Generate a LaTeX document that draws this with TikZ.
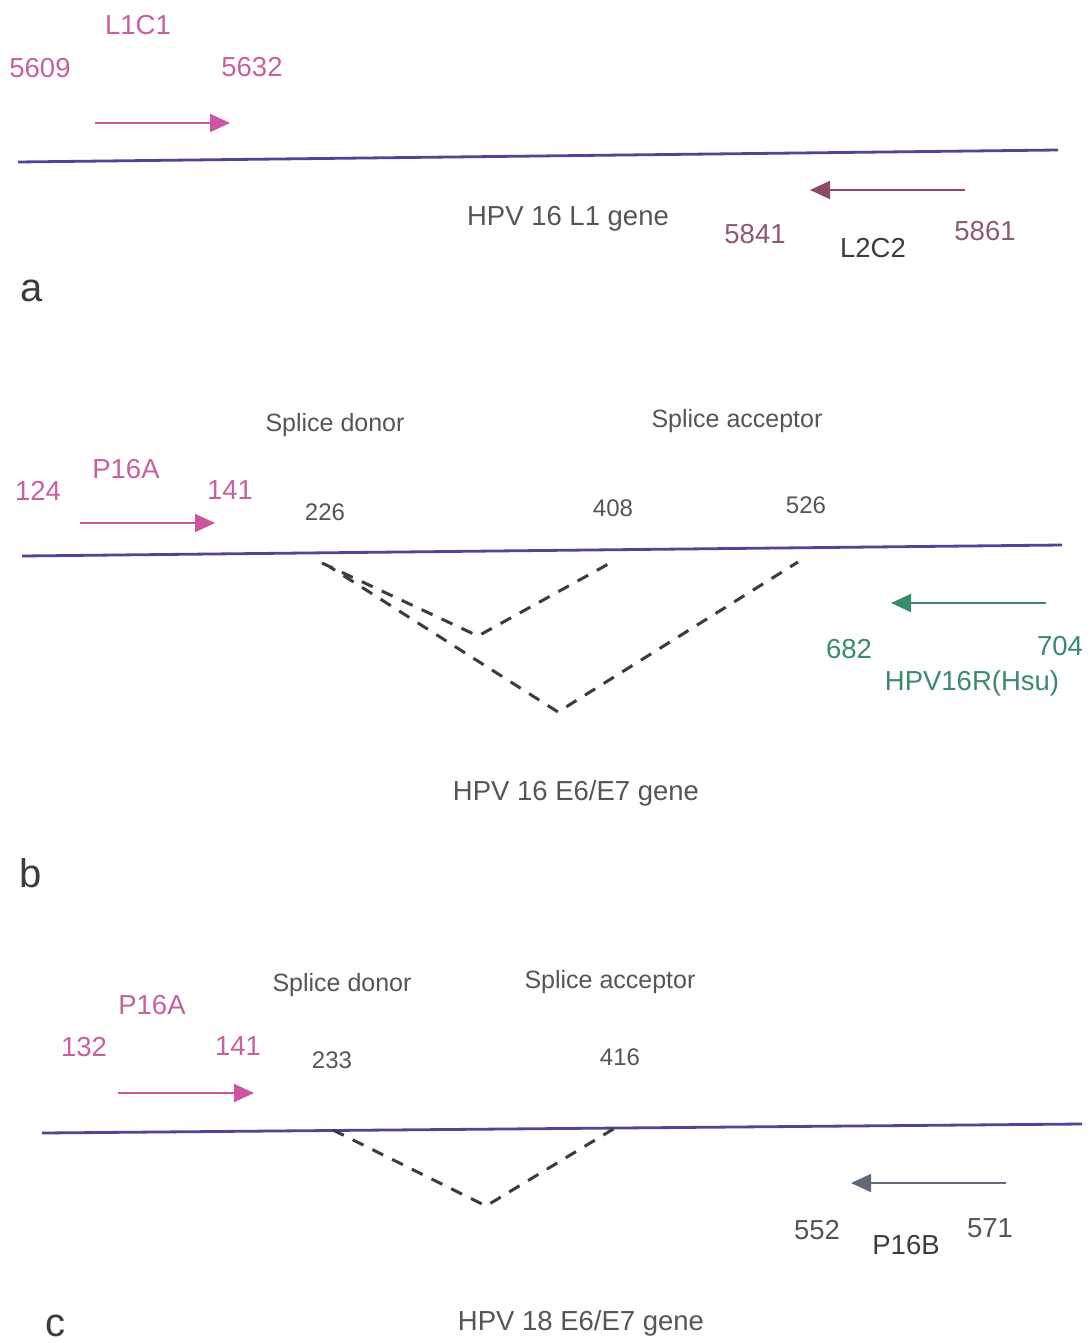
\documentclass[tikz,border=0pt]{standalone}
\usepackage{fontspec}
\setmainfont{Liberation Sans}
\usetikzlibrary{arrows.meta}
\definecolor{pinkc}{RGB}{204,84,160}
\definecolor{pinkt}{RGB}{200,96,160}
\definecolor{mauvet}{RGB}{140,90,120}
\definecolor{brownar}{RGB}{140,74,100}
\definecolor{greenc}{RGB}{58,140,104}
\definecolor{blueline}{RGB}{76,70,150}
\definecolor{grayt}{RGB}{85,85,85}
\definecolor{darkt}{RGB}{60,60,60}
\definecolor{slatear}{RGB}{95,105,120}
\tikzset{
  x=1pt,y=-1pt,
  lbl/.style={inner sep=0pt,font=\fontsize{27.5}{32}\selectfont},
  small/.style={inner sep=0pt,font=\fontsize{25}{29}\selectfont,text=grayt},
  num/.style={inner sep=0pt,font=\fontsize{24}{28}\selectfont,text=grayt},
  panel/.style={inner sep=0pt,font=\fontsize{40}{44}\selectfont,text=darkt},
  gene/.style={draw=blueline,line width=2.8pt},
  primer/.style={line width=1.8pt,-{Triangle[length=20pt,width=18pt]}},
  splice/.style={draw=darkt,line width=3pt,dash pattern=on 12pt off 10pt},
}
\begin{document}
\begin{tikzpicture}
\useasboundingbox (0,0) rectangle (1090,1343);
\fill[white] (0,0) rectangle (1090,1343);
% ---------- panel a ----------
\node[lbl,text=pinkt] (l1c1) at (138,25) {L1C1};
\node[lbl,text=pinkt] (a5609) at (40,68) {5609};
\node[lbl,text=pinkt] (a5632) at (252,67) {5632};
\coordinate (a1s) at (95,123);
\coordinate (a1e) at (230,123);
\draw[primer,color=pinkc] (a1s) -- (a1e);
\coordinate (la1) at (18,162);
\coordinate (la2) at (1058,150);
\draw[gene] (la1) -- (la2);
\coordinate (a2s) at (965,190);
\coordinate (a2e) at (810,190);
\draw[primer,color=brownar] (a2s) -- (a2e);
\node[lbl,text=grayt] (genea) at (568,219) {HPV 16 L1 gene};
\node[lbl,text=mauvet] (a5841) at (755,234) {5841};
\node[lbl,text=darkt] (l2c2) at (873,248) {L2C2};
\node[lbl,text=mauvet] (a5861) at (985,231) {5861};
\node[panel] (pa) at (32,291) {a};
% ---------- panel b ----------
\node[small] (bdonor) at (335,425) {Splice donor};
\node[small] (bacc) at (737,421) {Splice acceptor};
\node[lbl,text=pinkt] (bp16a) at (126,469) {P16A};
\node[lbl,text=pinkt] (b124) at (38,491) {124};
\node[lbl,text=pinkt] (b141) at (230,490) {141};
\node[num] (b226) at (325,512) {226};
\node[num] (b408) at (613,508) {408};
\node[num] (b526) at (806,505) {526};
\coordinate (b1s) at (80,523);
\coordinate (b1e) at (215,523);
\draw[primer,color=pinkc] (b1s) -- (b1e);
\coordinate (lb1) at (22,556);
\coordinate (lb2) at (1062,545);
\draw[gene] (lb1) -- (lb2);
\coordinate (d1) at (322,563);
\coordinate (d1b) at (330,567);
\coordinate (v1) at (478,636);
\coordinate (e1) at (612,562);
\coordinate (v2) at (558,712);
\coordinate (e2) at (798,562);
\draw[splice] (d1) -- (v1) -- (e1);
\draw[splice,dash phase=6pt] (d1b) -- (v2) -- (e2);
\coordinate (b2s) at (1046,603);
\coordinate (b2e) at (891,603);
\draw[primer,color=greenc] (b2s) -- (b2e);
\node[lbl,text=greenc] (b682) at (849,649) {682};
\node[lbl,text=greenc] (b704) at (1060,646) {704};
\node[lbl,text=greenc] (bhsu) at (972,683) {HPV16R(Hsu)};
\node[lbl,text=grayt] (geneb) at (576,793) {HPV 16 E6/E7 gene};
\node[panel] (pb) at (31,873) {b};
% ---------- panel c ----------
\node[small] (cdonor) at (342,985) {Splice donor};
\node[small] (cacc) at (610,982) {Splice acceptor};
\node[lbl,text=pinkt] (cp16a) at (152,1005) {P16A};
\node[lbl,text=pinkt] (c132) at (84,1047) {132};
\node[lbl,text=pinkt] (c141) at (238,1046) {141};
\node[num] (c233) at (332,1060) {233};
\node[num] (c416) at (620,1057) {416};
\coordinate (c1s) at (118,1093);
\coordinate (c1e) at (254,1093);
\draw[primer,color=pinkc] (c1s) -- (c1e);
\coordinate (lc1) at (42,1133);
\coordinate (lc2) at (1082,1124);
\draw[gene] (lc1) -- (lc2);
\coordinate (d3) at (333,1130);
\coordinate (v3) at (486,1206);
\coordinate (e3) at (615,1128);
\draw[splice] (d3) -- (v3) -- (e3);
\coordinate (c2s) at (1006,1183);
\coordinate (c2e) at (851,1183);
\draw[primer,color=slatear] (c2s) -- (c2e);
\node[lbl,text=grayt] (c552) at (817,1230) {552};
\node[lbl,text=darkt] (p16b) at (906,1245) {P16B};
\node[lbl,text=grayt] (c571) at (990,1228) {571};
\node[lbl,text=grayt] (genec) at (581,1323) {HPV 18 E6/E7 gene};
\node[panel] (pc) at (55,1326) {c};
\end{tikzpicture}
\end{document}
